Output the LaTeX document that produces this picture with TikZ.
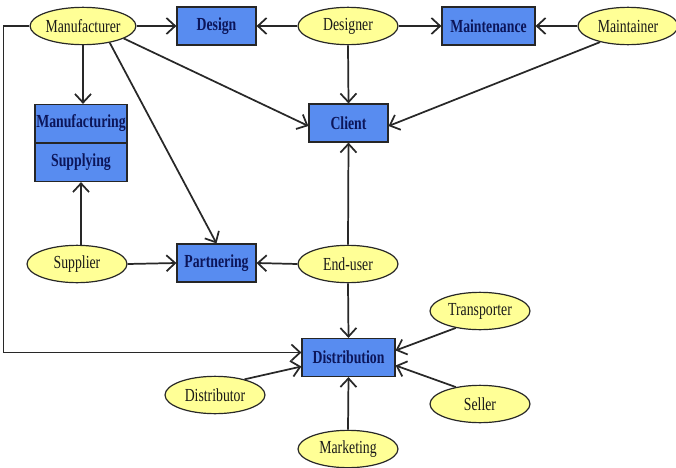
\documentclass[tikz,border=0pt]{standalone}
\usepackage{fontspec}
\setmainfont{Liberation Serif}
\usetikzlibrary{arrows.meta,calc,shapes.geometric}
\definecolor{boxblue}{RGB}{88,140,240}
\definecolor{ellyellow}{RGB}{255,255,150}
\definecolor{navytext}{RGB}{12,22,90}
\definecolor{edgecol}{RGB}{40,40,40}
\newcommand{\tx}[1]{\scalebox{0.86}[1.15]{#1}}
\tikzset{
  actor/.style={ellipse, draw=edgecol, line width=0.9pt, fill=ellyellow, inner sep=0pt,
    minimum width=75pt, minimum height=28pt, font=\fontsize{12}{14}\selectfont, text=black!90},
  activity/.style={rectangle, draw=black!85, line width=0.9pt, fill=boxblue, inner sep=0pt,
    minimum height=28.5pt, font=\bfseries\fontsize{12}{14}\selectfont, text=navytext},
  link/.style={draw=edgecol, line width=1.3pt, -{Straight Barb[length=6.5pt,width=12pt,line width=1.3pt]}},
}
\begin{document}
\begin{tikzpicture}[x=0.75pt,y=-0.75pt]
\useasboundingbox (0,0) rectangle (676,468);
% actors
\node[actor] (mfr) at (83,26) {\tx{Manufacturer}};
\node[actor] (designer) at (348,26) {\tx{Designer}};
\node[actor] (maintainer) at (628,26) {\tx{Maintainer}};
\node[actor] (supplier) at (77,264) {\tx{Supplier}};
\node[actor] (enduser) at (348,264) {\tx{End-user}};
\node[actor] (transporter) at (480,311) {\tx{Transporter}};
\node[actor] (distributor) at (215,395) {\tx{Distributor}};
\node[actor] (seller) at (480,404) {\tx{Seller}};
\node[actor] (marketing) at (348,449) {\tx{Marketing}};
% activities
\node[activity, minimum width=59.25pt] (design) at (216.5,26) {\tx{Design}};
\node[activity, minimum width=69.75pt] (maint) at (488.5,26) {\tx{Maintenance}};
\node[activity, minimum width=69pt] (mfg) at (81,123.5) {\tx{Manufacturing}};
\node[activity, minimum width=69pt] (sup) at (81,162.5) {\tx{Supplying}};
\node[activity, minimum width=59.25pt] (client) at (348.5,123) {\tx{Client}};
\node[activity, minimum width=59.25pt] (partner) at (216.5,263) {\tx{Partnering}};
\node[activity, minimum width=69.75pt] (dist) at (348.5,357.5) {\tx{Distribution}};
% connectors
\draw[link] (mfr.east) -- (design.west);
\draw[link] (designer.west) -- (design.east);
\draw[link] (designer.east) -- (maint.west);
\draw[link] (maintainer.west) -- (maint.east);
\draw[link] (mfr.south) -- (mfr.south |- mfg.north);
\draw[link] (mfr.-17) -- ($(client.west)+(0,3)$);
\draw[link] (mfr.-32) -- (partner.north);
\draw[link] (designer.south) -- (client.north);
\draw[link] (maintainer.-150) -- ($(client.east)+(0,3)$);
\draw[link] (supplier.north -| sup.south) -- (sup.south);
\draw[link] (supplier.east) -- (partner.west);
\draw[link] (enduser.west) -- (partner.east);
\draw[link] (enduser.north) -- (client.south);
\draw[link] (enduser.south) -- (dist.north);
\draw[link] (mfr.west) -- ++(-26,0) |- ($(dist.west)+(0,-5)$);
\draw[link] (distributor.28) -- ($(dist.west)+(0,9)$);
\draw[link] (transporter.-145) -- ($(dist.east)+(0,-7)$);
\draw[link] (seller.145) -- ($(dist.east)+(0,8)$);
\draw[link] (marketing.north) -- (dist.south);
\end{tikzpicture}
\end{document}
